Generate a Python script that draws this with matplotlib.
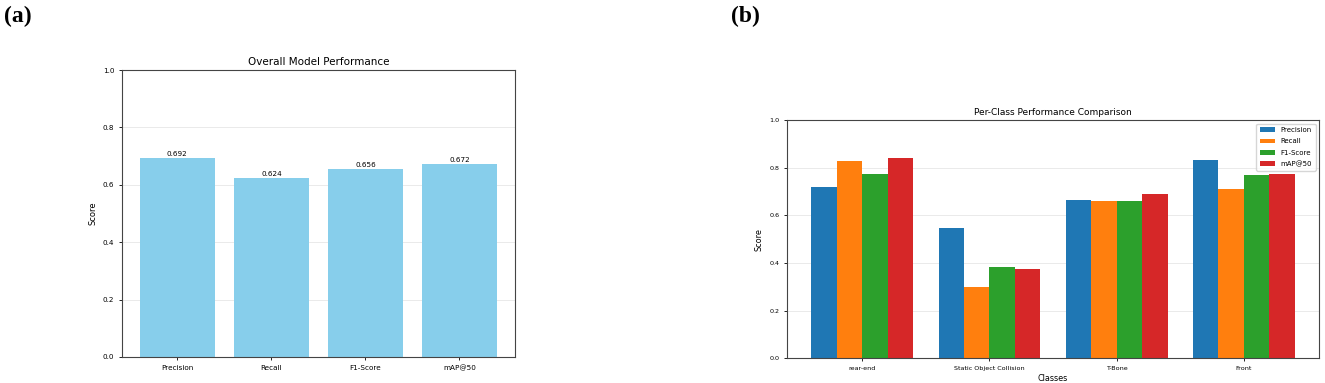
import numpy as np
import matplotlib
matplotlib.use("Agg")
import matplotlib.pyplot as plt

# panel (a) data
metrics = ["Precision", "Recall", "F1-Score", "mAP@50"]
overall = [0.692, 0.624, 0.656, 0.672]

# panel (b) data
classes = ["rear-end", "Static Object Collision", "T-Bone", "Front"]
precision = [0.720, 0.548, 0.663, 0.832]
recall = [0.828, 0.297, 0.659, 0.712]
f1 = [0.772, 0.385, 0.659, 0.768]
map50 = [0.843, 0.375, 0.692, 0.775]

fig = plt.figure(figsize=(13.25, 3.83), dpi=100)

# (a) overall performance
ax1 = fig.add_axes([0.092, 0.068, 0.2966, 0.749])
bars = ax1.bar(metrics, overall, color="skyblue", width=0.8)
for b, v in zip(bars, overall):
    ax1.text(b.get_x() + b.get_width() / 2, v + 0.004, f"{v:.3f}",
             ha="center", va="bottom", fontsize=5.2)
ax1.set_ylim(0, 1.0)
ax1.set_title("Overall Model Performance", fontsize=7.5, pad=4)
ax1.set_ylabel("Score", fontsize=6)
ax1.tick_params(labelsize=5.2, length=2, width=0.6)
ax1.grid(axis="y", alpha=0.3, linewidth=0.6)
ax1.set_axisbelow(True)
for s in ax1.spines.values():
    s.set_linewidth(0.8)
    s.set_color("#444444")

# (b) per-class comparison
ax2 = fig.add_axes([0.594, 0.065, 0.4015, 0.621])
x = np.arange(len(classes))
w = 0.2
series = [("Precision", precision), ("Recall", recall),
          ("F1-Score", f1), ("mAP@50", map50)]
for i, (name, vals) in enumerate(series):
    ax2.bar(x + (i - 1.5) * w, vals, w, label=name)
ax2.set_xticks(x)
ax2.set_xticklabels(classes)
ax2.set_ylim(0, 1.0)
ax2.set_title("Per-Class Performance Comparison", fontsize=6.5, pad=4)
ax2.set_ylabel("Score", fontsize=5.8)
ax2.set_xlabel("Classes", fontsize=5.8, labelpad=2)
ax2.tick_params(labelsize=4.6, length=2, width=0.6)
ax2.grid(axis="y", alpha=0.3, linewidth=0.6)
ax2.set_axisbelow(True)
ax2.legend(fontsize=5, loc="upper right", labelspacing=0.75,
           handlelength=2.2, borderpad=0.5)
for s in ax2.spines.values():
    s.set_linewidth(0.8)
    s.set_color("#444444")

fig.text(0.003, 0.985, "(a)", family="Liberation Serif", weight="bold",
         fontsize=17, ha="left", va="top")
fig.text(0.552, 0.985, "(b)", family="Liberation Serif", weight="bold",
         fontsize=17, ha="left", va="top")

fig.savefig("out.png", dpi=100)
